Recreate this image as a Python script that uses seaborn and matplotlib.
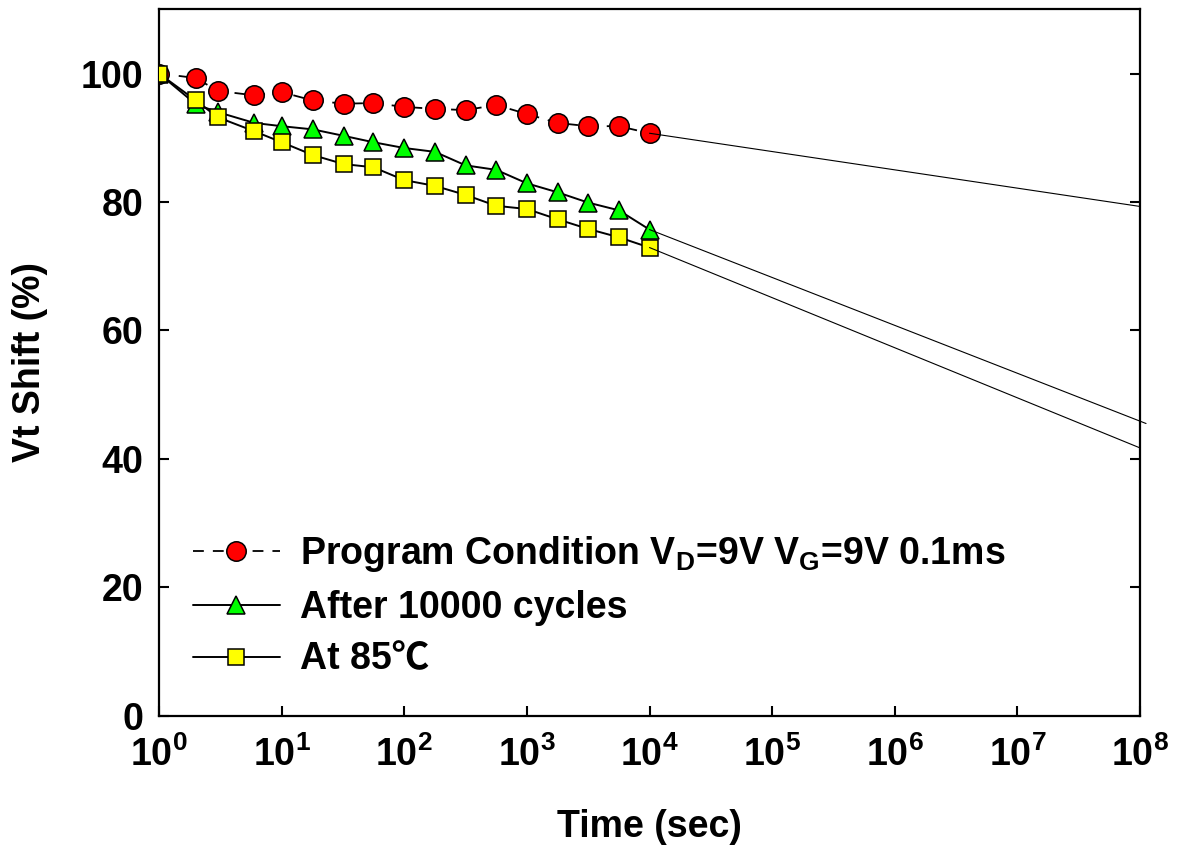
import numpy as np
import pandas as pd
import matplotlib
matplotlib.use("Agg")
import matplotlib.pyplot as plt
from matplotlib.ticker import FixedLocator, NullLocator, FuncFormatter
import seaborn as sns

# ---- data ----
time_sec = [1, 2, 3, 6, 10, 18, 32, 56, 100, 178, 316, 562, 1000, 1780, 3160, 5620, 10000]
program = [100, 99.3, 97.3, 96.6, 97.1, 95.8, 95.3, 95.4, 94.8, 94.5, 94.3, 95.1,
           93.7, 92.3, 91.8, 91.8, 90.7]
cycled = [100, 95.2, 94.0, 92.3, 91.8, 91.3, 90.3, 89.3, 88.4, 87.8, 85.7, 85.0,
          82.9, 81.5, 79.9, 78.7, 75.7]
hot85 = [100, 95.8, 93.2, 91.0, 89.3, 87.3, 85.9, 85.4, 83.4, 82.5, 81.1, 79.4,
         78.9, 77.3, 75.8, 74.5, 72.9]

# extrapolation lines
fit_program_x = [1e4, 1e8]
fit_program_y = [90.7, 79.3]
fit_cycled_x = [1e4, 1.12e8]
fit_cycled_y = [75.7, 45.5]
fit_hot_x = [1e4, 1e8]
fit_hot_y = [72.9, 41.7]

labels = [r"Program Condition V$_{\mathbf{D}}$=9V V$_{\mathbf{G}}$=9V 0.1ms",
          "After 10000 cycles",
          "At 85\u2103"]
x_ticks = [1, 10, 100, 1000, 1e4, 1e5, 1e6, 1e7, 1e8]
y_ticks = [0, 20, 40, 60, 80, 100]

sns.set_style("ticks")
plt.rcParams["font.family"] = ["Liberation Sans", "Noto Sans CJK SC", "DejaVu Sans"]
plt.rcParams["font.weight"] = "bold"
plt.rcParams["mathtext.fontset"] = "custom"
plt.rcParams["mathtext.rm"] = "Liberation Sans:bold"
plt.rcParams["mathtext.bf"] = "Liberation Sans:bold"
plt.rcParams["mathtext.it"] = "Liberation Sans:bold"
for k in ["text.color", "axes.labelcolor", "xtick.color", "ytick.color", "axes.edgecolor"]:
    plt.rcParams[k] = "black"

FS = 27

fig = plt.figure(figsize=(11.81, 8.52), dpi=100)
ax = fig.add_axes([159 / 1181, 1 - 715.7 / 852, (1140 - 159) / 1181, (715.7 - 9.3) / 852])

df = pd.DataFrame({"time": time_sec, "program": program, "cycled": cycled, "hot": hot85})

sns.lineplot(data=df, x="time", y="program", ax=ax, color="black", lw=1.3,
             linestyle=(0, (6, 5)), marker="o", markersize=14,
             markerfacecolor="#FF0000", markeredgecolor="black", markeredgewidth=1.1,
             label=labels[0], zorder=3)
sns.lineplot(data=df, x="time", y="cycled", ax=ax, color="black", lw=1.4,
             marker="^", markersize=13.5,
             markerfacecolor="#00FF00", markeredgecolor="black", markeredgewidth=1.1,
             label=labels[1], zorder=3)
sns.lineplot(data=df, x="time", y="hot", ax=ax, color="black", lw=1.4,
             marker="s", markersize=12,
             markerfacecolor="#FFFF00", markeredgecolor="black", markeredgewidth=1.1,
             label=labels[2], zorder=3)

ax.plot(fit_program_x, fit_program_y, color="black", lw=0.8, zorder=4)
ax.plot(fit_cycled_x, fit_cycled_y, color="black", lw=0.8, zorder=4, clip_on=False)
ax.plot(fit_hot_x, fit_hot_y, color="black", lw=0.8, zorder=4)

ax.set_xscale("log")
ax.set_xlim(1, 1e8)
ax.set_ylim(0, 110)
ax.xaxis.set_major_locator(FixedLocator(x_ticks))
ax.xaxis.set_minor_locator(NullLocator())
ax.xaxis.set_major_formatter(FuncFormatter(lambda v, p: r"$\mathbf{10^{%d}}$" % int(round(np.log10(v)))))
ax.yaxis.set_major_locator(FixedLocator(y_ticks))
ax.yaxis.set_minor_locator(NullLocator())

for s in ax.spines.values():
    s.set_visible(True)
    s.set_linewidth(1.6)
    s.set_color("black")

ax.tick_params(axis="both", which="major", direction="in", length=7, width=1.5,
               labelsize=FS, colors="black")
ax.tick_params(axis="y", right=True, pad=11)
ax.tick_params(axis="x", top=False, pad=15)
for lab in ax.get_xticklabels() + ax.get_yticklabels():
    lab.set_fontweight("bold")

ax.set_xlabel("Time (sec)", fontsize=FS, fontweight="bold", labelpad=25)
ax.set_ylabel("Vt Shift (%)", fontsize=FS, fontweight="bold", labelpad=24)

leg = ax.legend(loc="upper left", bbox_to_anchor=(0.035, 0.257), frameon=False,
                fontsize=FS, handlelength=2.3, handletextpad=0.55, labelspacing=0.42,
                borderpad=0, borderaxespad=0, numpoints=1)
for t in leg.get_texts():
    t.set_fontweight("bold")

fig.savefig("out.png", dpi=100)
